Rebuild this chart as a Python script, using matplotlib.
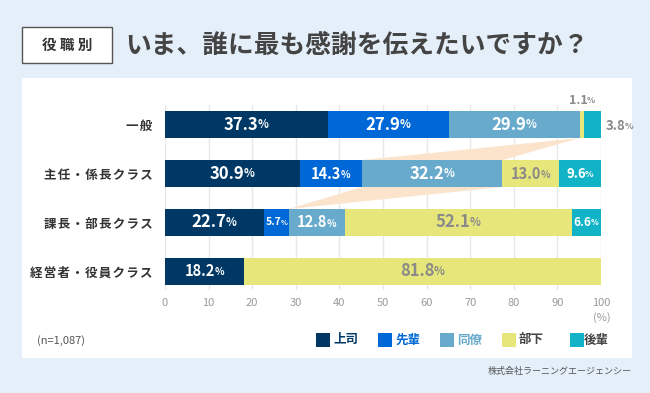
import matplotlib.pyplot as plt
import numpy as np
from matplotlib.patches import Rectangle, Polygon

plt.rcParams['font.family'] = ['Noto Sans CJK JP', 'DejaVu Sans']

categories = ["一般", "主任・係長クラス", "課長・部長クラス", "経営者・役員クラス"]
series = ["上司", "先輩", "同僚", "部下", "後輩"]
joshi = [37.3, 30.9, 22.7, 18.2]
senpai = [27.9, 14.3, 5.7, 0.0]
douryou = [29.9, 32.2, 12.8, 0.0]
buka = [1.1, 13.0, 52.1, 81.8]
kouhai = [3.8, 9.6, 6.6, 0.0]
ticks = [0, 10, 20, 30, 40, 50, 60, 70, 80, 90, 100]

colors = ["#003865", "#0068D6", "#67AACB", "#E6E67A", "#10B4C6"]
label_colors = ["white", "white", "white", "#8A8A8A", "white"]
legend_text_colors = ["#003865", "#0068D6", "#67AACB", "#444444", "#444444"]

W, H = 650, 393
fig = plt.figure(figsize=(W / 100, H / 100), dpi=100)
fig.patch.set_facecolor("#E4EFF9")

def fx(px):
    return px / W

def fy(py):
    return 1 - py / H

# white panel
fig.add_artist(Rectangle((fx(22), fy(358)), fx(632) - fx(22), fy(78) - fy(358),
                         transform=fig.transFigure, facecolor="white", edgecolor="none", zorder=0))

# title box + title
fig.add_artist(Rectangle((fx(22), fy(63)), fx(112) - fx(22), fy(27) - fy(63),
                         transform=fig.transFigure, facecolor="white", edgecolor="#555555",
                         linewidth=1, zorder=1))
fig.text(fx(67), fy(45), "役 職 別", ha="center", va="center", fontsize=10.5,
         color="#333333", fontweight="bold")
fig.text(fx(125), fy(45), "いま、誰に最も感謝を伝えたいですか？", ha="left", va="center",
         fontsize=18.5, color="#444444", fontweight="bold")

ax = fig.add_axes([fx(165), fy(290), fx(601) - fx(165), fy(105) - fy(290)])
ax.set_facecolor("none")
ax.set_xlim(0, 100)
ax.set_ylim(3.38, -0.4)
for s in ax.spines.values():
    s.set_visible(False)
ax.set_xticks(ticks)
ax.set_xticklabels([str(t) for t in ticks], fontsize=8, color="#9A9A9A")
ax.tick_params(axis="x", length=0, pad=6)
ax.set_yticks(range(len(categories)))
ax.set_yticklabels(["\u200a".join(c) for c in categories], fontsize=9.0, color="#333333",
                   fontweight="bold")
ax.tick_params(axis="y", length=0, pad=9)
ax.grid(axis="x", color="#E8E8E8", linewidth=1)
ax.set_axisbelow(True)

y = np.arange(len(categories))
h = 0.55
data = np.array([joshi, senpai, douryou, buka, kouhai])
left = np.zeros(len(categories))
for i, vals in enumerate(data):
    ax.barh(y, vals, left=left, height=h, color=colors[i], zorder=3)
    left = left + vals

cum = np.cumsum(data, axis=0)

# highlight bands around 同僚 of 主任・係長クラス
ds = cum[1]  # start of 同僚
de = cum[2]  # end of 同僚
band1 = Polygon([(de[0], 0 + h / 2), (ds[1], 1 - h / 2), (de[1], 1 - h / 2)],
                closed=True, facecolor="#FCE3CC", edgecolor="none", zorder=2)
band2 = Polygon([(ds[1], 1 + h / 2), (de[1], 1 + h / 2), (ds[2], 2 - h / 2)],
                closed=True, facecolor="#FCE3CC", edgecolor="none", zorder=2)
ax.add_patch(band1)
ax.add_patch(band2)

def size_for(v):
    if v >= 20:
        return 12
    if v >= 12:
        return 10.5
    if v >= 9:
        return 9.5
    if v >= 6:
        return 8.5
    return 7.5

def put_label(xc, yc, v, color, fs, ha="center"):
    t = ax.text(xc, yc, f"{v:.1f}", ha=ha, va="center", fontsize=fs, color=color,
                fontweight="bold", zorder=5)
    if ha == "center":
        t.set_x(xc - fs * 0.1)
    ax.annotate("%", xy=(0.97, 0.12), xycoords=t, ha="left", va="bottom",
                fontsize=fs * 0.68, color=color, fontweight="bold", zorder=5)

for i, vals in enumerate(data):
    for j, v in enumerate(vals):
        if v == 0:
            continue
        if j == 0 and i >= 3:
            continue
        xc = cum[i][j] - v / 2
        put_label(xc, j, v, label_colors[i], size_for(v))

# outside labels for 一般
put_label(cum[3][0] - data[3][0] / 2, -0.5, data[3][0], "#8A8A8A", 9)
put_label(cum[4][0] + 1.0, 0.03, data[4][0], "#8A8A8A", 9.5, ha="left")

fig.text(fx(602), fy(318), "(%)", ha="center", va="center", fontsize=8, color="#9A9A9A")
fig.text(fx(37), fy(341), "(n=1,087)", ha="left", va="center", fontsize=8, color="#555555")
fig.text(fx(632), fy(371), "株式会社ラーニングエージェンシー", ha="right", va="center",
         fontsize=6.5, color="#555555")

# legend
leg_sq = [316, 378, 440, 502, 570]
leg_tx = [333, 395, 457, 519, 584]
for i, name in enumerate(series):
    fig.add_artist(Rectangle((fx(leg_sq[i]), fy(347)), fx(14), 14 / H,
                             transform=fig.transFigure, facecolor=colors[i], edgecolor="none"))
    fig.text(fx(leg_tx[i]), fy(340), name, ha="left", va="center", fontsize=9,
             color=legend_text_colors[i], fontweight="bold")

fig.savefig("out.png", dpi=100, facecolor=fig.get_facecolor())
